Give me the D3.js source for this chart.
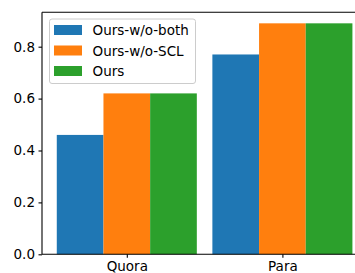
<!DOCTYPE html>
<html><head><meta charset="utf-8">
<script src="https://cdn.jsdelivr.net/npm/d3@7"></script>
<style>body{margin:0;background:#fff}svg{display:block}text{font-family:"DejaVu Sans",sans-serif}</style>
</head><body>
<script>
const categories = ["Quora", "Para"];
const seriesNames = ["Ours-w/o-both", "Ours-w/o-SCL", "Ours"];
const seriesColors = ["#1f77b4", "#ff7f0e", "#2ca02c"];
const woBoth = [0.46, 0.77];
const woSCL = [0.62, 0.89];
const ours = [0.62, 0.89];
const yTicks = [0.0, 0.2, 0.4, 0.6, 0.8];

(function () {
const values = [woBoth, woSCL, ours];
const W = 355, H = 273;
const mLeft = 42, mRight = 367.2, mTop = 12.3, mBottom = 254.3;
const fs = 13.5;

const svg = d3.select("body").append("svg").attr("width", W).attr("height", H);

const barW = 0.3;
const x = d3.scaleLinear().domain([-0.545, 1.545]).range([mLeft, mRight]);
const y = d3.scaleLinear().domain([0, 0.9325]).range([mBottom, mTop]);

const g = svg.append("g");
values.forEach((vals, si) => {
  g.selectAll(null).data(vals).enter().append("rect")
    .attr("x", (d, i) => x(i + (si - 1) * barW - barW / 2))
    .attr("width", x(barW) - x(0))
    .attr("y", d => y(d))
    .attr("height", d => y(0) - y(d))
    .attr("fill", seriesColors[si]);
});

const ya = svg.append("g").attr("transform", `translate(${mLeft},0)`)
  .call(d3.axisLeft(y).tickValues(yTicks).tickFormat(d3.format(".1f")).tickSize(3.5).tickPadding(3.5));
ya.select(".domain").remove();
ya.selectAll("line").attr("stroke", "#000").attr("stroke-width", 1.1);
ya.selectAll("text").attr("font-size", fs).attr("fill", "#000").style("font-family", "DejaVu Sans");

const xa = svg.append("g").attr("transform", `translate(0,${mBottom})`)
  .call(d3.axisBottom(x).tickValues([0, 1]).tickFormat(i => categories[i]).tickSize(3.5).tickPadding(3.5));
xa.select(".domain").remove();
xa.selectAll("line").attr("stroke", "#000").attr("stroke-width", 1.1);
xa.selectAll("text").attr("font-size", fs).attr("fill", "#000").style("font-family", "DejaVu Sans");

const sp = svg.append("g").attr("stroke", "#000").attr("stroke-width", 1.1).attr("fill", "none");
sp.append("line").attr("x1", mLeft).attr("x2", mLeft).attr("y1", mTop).attr("y2", mBottom);
sp.append("line").attr("x1", mLeft).attr("x2", mRight).attr("y1", mBottom).attr("y2", mBottom);
sp.append("line").attr("x1", mLeft).attr("x2", mRight).attr("y1", mTop).attr("y2", mTop);
sp.append("line").attr("x1", mRight).attr("x2", mRight).attr("y1", mTop).attr("y2", mBottom);

const lg = svg.append("g").attr("transform", "translate(49.5,19)");
lg.append("rect").attr("width", 146).attr("height", 64.5).attr("rx", 2.5)
  .attr("fill", "#fff").attr("fill-opacity", 0.8).attr("stroke", "#cccccc").attr("stroke-width", 1);
seriesNames.forEach((n, i) => {
  const row = lg.append("g").attr("transform", `translate(0,${6 + i * 20.5})`);
  row.append("rect").attr("x", 4.5).attr("width", 28).attr("height", 10).attr("fill", seriesColors[i]);
  row.append("text").attr("x", 43).attr("y", 10).attr("font-size", fs).attr("fill", "#000").text(n);
});
})();
</script>
</body></html>
